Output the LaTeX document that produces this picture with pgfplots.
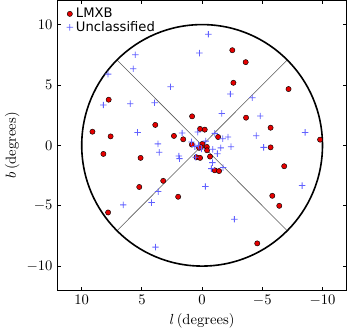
\documentclass[border=0pt]{standalone}
\usepackage{pgfplots}
\pgfplotsset{compat=1.18}
\usepackage{fontspec}
\newfontfamily\dejavu{DejaVu Sans}
\definecolor{lmxbred}{rgb}{0.9,0,0}
\definecolor{uncblue}{rgb}{0.38,0.38,1}
\pgfdeclareplotmark{fplus}{%
  \pgfpathrectangle{\pgfpoint{-\pgfplotmarksize}{-0.28pt}}{\pgfpoint{2\pgfplotmarksize}{0.56pt}}%
  \pgfpathrectangle{\pgfpoint{-0.28pt}{-\pgfplotmarksize}}{\pgfpoint{0.56pt}{2\pgfplotmarksize}}%
  \pgfusepathqfill}
\begin{document}
\begin{tikzpicture}
\begin{axis}[
  width=198pt, height=198.6pt, scale only axis,
  xmin=-12, xmax=12, ymin=-12, ymax=12, x dir=reverse,
  xtick={-10,-5,0,5,10}, ytick={-10,-5,0,5,10},
  tick align=inside, major tick length=2.5pt,
  tick style={black, semithick},
  axis line style={semithick},
  xlabel={$l\,$(degrees)}, ylabel={$b\,$(degrees)},
  xlabel style={yshift=2pt},
  ylabel style={yshift=-2pt},
  legend style={at={(0.025,0.99)}, anchor=north west, draw=none, fill=none,
    font=\dejavu\small, inner sep=1pt, row sep=-3pt,
    /tikz/every even column/.append style={column sep=1pt}},
  legend cell align=left,
]
% reference geometry
\addplot[gray!70!black, thin, forget plot] coordinates {(7.07,7.07) (-7.07,-7.07)};
\addplot[gray!70!black, thin, forget plot] coordinates {(7.07,-7.07) (-7.07,7.07)};
\draw[black, line width=1.1pt] (axis cs:0,0) ellipse [x radius=10, y radius=10];
% LMXB
\addplot[black, only marks, mark=*, mark size=1.8pt, mark options={fill=lmxbred, draw=black, line width=0.3pt}] coordinates {
(-2.51,7.88) (-3.62,6.89) (-2.6,5.18) (-7.18,4.66) (7.76,3.78)
(0.83,2.4) (3.89,1.69) (9.11,1.13) (7.6,0.74) (0.17,1.36) (-0.22,1.3)
(-3.65,2.29) (-5.69,1.46) (2.34,0.78) (1.57,0.5) (-1.33,0.69)
(0.85,0.06) (-0.02,0.12) (0.25,-0.21) (-0.39,-0.13) (-0.41,-0.41) (0.1,-0.15)
(-9.8,0.47) (-5.69,-0.17) (8.2,-0.71) (5.11,-1.04) (0.47,-0.99) (0.17,-1.04)
(-0.66,-0.93) (-6.82,-1.73) (-1.05,-2.07) (-1.41,-2.13) (3.23,-2.94)
(5.22,-3.45) (-5.83,-4.18) (1.99,-4.26) (7.81,-5.56) (-6.41,-5.01) (-4.58,-8.12)
};
\addlegendentry{LMXB}
% Unclassified
\addplot[uncblue, only marks, mark=fplus, mark size=2.2pt, mark options={fill=uncblue, draw=none}] coordinates {
(-0.52,9.2) (0.22,7.64) (5.55,7.5) (5.72,6.34) (7.81,5.9) (2.62,4.85)
(-2.35,4.25) (-4.17,3.94) (8.2,3.34) (5.97,3.45) (3.95,3.53) (-1.63,2.64)
(-4.83,2.43) (5.36,1.07) (1.66,1.02) (0.36,1.1) (-1.05,0.99) (-4.5,0.8)
(-8.56,1.07) (3.67,0.12) (0.88,0.28) (-1.71,0.55) (-2.15,0.69) (-2.4,-0.11)
(-5.11,-0.17) (3.56,-0.58) (-0.88,-0.33) (-1.55,-0.21) (-1.27,-0.69)
(1.93,-0.88) (1.88,-1.1) (0.55,-0.99) (-0.86,-1.43) (-0.77,-1.93) (-1.74,-1.84)
(-8.31,-3.33) (-0.27,-3.41) (3.65,-3.83) (6.55,-4.93) (4.2,-4.74)
(-2.68,-6.12) (3.87,-8.43) (0.3,0.0) (0.05,-0.3) (0.6,-0.1) (-0.3,0.35)
};
\addlegendentry{Unclassified}
\end{axis}
\end{tikzpicture}
\end{document}
